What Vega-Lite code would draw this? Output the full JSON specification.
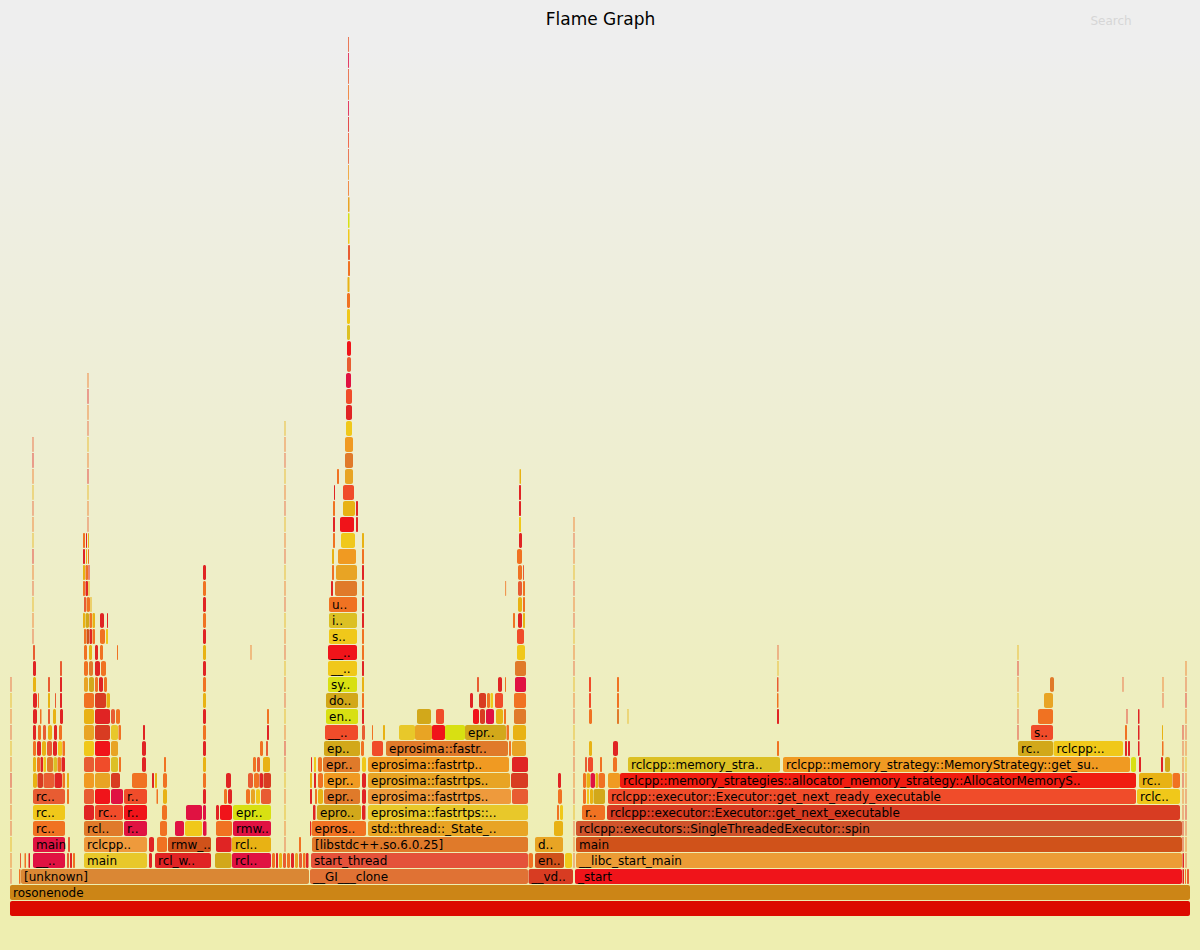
{
"$schema": "https://vega.github.io/schema/vega-lite/v6.json",
"width": 1200, "height": 950,
"autosize": "none",
"padding": 0,
"background": "#eeeeee",
"config": {"view": {"stroke": null, "fill": {"gradient": "linear", "x1": 0, "y1": 0, "x2": 0, "y2": 1, "stops": [{"offset": 0.05, "color": "#eeeeee"}, {"offset": 0.95, "color": "#eeeeb0"}]}}},
"data": {"values": [
{"x0":10,"x1":1190,"depth":0,"heat":"A"},
{"x0":10,"x1":1190,"depth":1,"heat":"B","name":"rosonenode"},
{"x0":10.6,"x1":11.4,"depth":2,"heat":"Z"},{"x0":19,"x1":20.5,"depth":2,"heat":"W"},{"x0":21,"x1":309,"depth":2,"heat":"C","name":"[unknown]"},{"x0":310,"x1":528,"depth":2,"heat":"D","name":"__GI___clone"},{"x0":528.5,"x1":573,"depth":2,"heat":"N","name":"__vd.."},{"x0":575,"x1":1182,"depth":2,"heat":"J","name":"_start"},{"x0":1182.5,"x1":1184,"depth":2,"heat":"X"},{"x0":1185,"x1":1186,"depth":2,"heat":"W"},{"x0":1187,"x1":1189,"depth":2,"heat":"Z"},
{"x0":10.6,"x1":11.4,"depth":3,"heat":"W"},{"x0":20,"x1":21,"depth":3,"heat":"Z"},{"x0":24.5,"x1":26,"depth":3,"heat":"W"},{"x0":28.5,"x1":30,"depth":3,"heat":"X"},{"x0":33,"x1":65,"depth":3,"heat":"T","name":"__.."},{"x0":67,"x1":69,"depth":3,"heat":"Z"},{"x0":70,"x1":72,"depth":3,"heat":"X"},{"x0":73,"x1":75,"depth":3,"heat":"W"},{"x0":84,"x1":147,"depth":3,"heat":"H","name":"main"},{"x0":149,"x1":152,"depth":3,"heat":"X"},{"x0":155,"x1":211,"depth":3,"heat":"X","name":"rcl_w.."},{"x0":215,"x1":231.5,"depth":3,"heat":"V"},{"x0":232,"x1":271,"depth":3,"heat":"T","name":"rcl.."},{"x0":272,"x1":275,"depth":3,"heat":"W"},{"x0":276,"x1":278,"depth":3,"heat":"X"},{"x0":279,"x1":282,"depth":3,"heat":"Y"},{"x0":283,"x1":286,"depth":3,"heat":"Z"},{"x0":287,"x1":290,"depth":3,"heat":"W"},{"x0":291,"x1":294,"depth":3,"heat":"X"},{"x0":295,"x1":298,"depth":3,"heat":"G"},{"x0":299,"x1":302,"depth":3,"heat":"Z"},{"x0":303,"x1":305.5,"depth":3,"heat":"W"},{"x0":306,"x1":308.5,"depth":3,"heat":"X"},{"x0":311,"x1":528,"depth":3,"heat":"E","name":"start_thread"},{"x0":528.5,"x1":533,"depth":3,"heat":"W"},{"x0":535,"x1":564,"depth":3,"heat":"L","name":"en.."},{"x0":565,"x1":572,"depth":3,"heat":"U"},{"x0":573.6,"x1":574.4,"depth":3,"heat":"Z"},{"x0":576,"x1":1182,"depth":3,"heat":"K","name":"__libc_start_main"},{"x0":1182.5,"x1":1184,"depth":3,"heat":"X"},{"x0":1185.6,"x1":1186.4,"depth":3,"heat":"Z"},
{"x0":10.6,"x1":11.4,"depth":4,"heat":"Y"},{"x0":33,"x1":65,"depth":4,"heat":"T","name":"main"},{"x0":68,"x1":70,"depth":4,"heat":"Z"},{"x0":84,"x1":147,"depth":4,"heat":"I","name":"rclcpp.."},{"x0":149,"x1":154,"depth":4,"heat":"X"},{"x0":157,"x1":167,"depth":4,"heat":"W"},{"x0":168,"x1":211,"depth":4,"heat":"L","name":"rmw_.."},{"x0":216,"x1":231.5,"depth":4,"heat":"X"},{"x0":232,"x1":271,"depth":4,"heat":"Y","name":"rcl.."},{"x0":284.6,"x1":285.4,"depth":4,"heat":"Z"},{"x0":299,"x1":301,"depth":4,"heat":"W"},{"x0":312,"x1":528,"depth":4,"heat":"F","name":"[libstdc++.so.6.0.25]"},{"x0":535,"x1":563,"depth":4,"heat":"G","name":"d.."},{"x0":573.6,"x1":574.4,"depth":4,"heat":"W"},{"x0":576,"x1":1182,"depth":4,"heat":"L","name":"main"},{"x0":1182.6,"x1":1183.4,"depth":4,"heat":"X"},{"x0":1185.6,"x1":1186.4,"depth":4,"heat":"W"},
{"x0":10.6,"x1":11.4,"depth":5,"heat":"Z"},{"x0":33,"x1":65,"depth":5,"heat":"W","name":"rc.."},{"x0":84,"x1":123,"depth":5,"heat":"F","name":"rcl.."},{"x0":124,"x1":147,"depth":5,"heat":"T","name":"r.."},{"x0":160,"x1":167,"depth":5,"heat":"W"},{"x0":175,"x1":184,"depth":5,"heat":"T"},{"x0":185,"x1":202,"depth":5,"heat":"U"},{"x0":203,"x1":206.5,"depth":5,"heat":"T"},{"x0":216,"x1":232,"depth":5,"heat":"W"},{"x0":233,"x1":271,"depth":5,"heat":"T","name":"rmw.."},{"x0":284.6,"x1":285.4,"depth":5,"heat":"W"},{"x0":310,"x1":311,"depth":5,"heat":"X"},{"x0":311.5,"x1":366,"depth":5,"heat":"W","name":"epros.."},{"x0":368,"x1":528,"depth":5,"heat":"G","name":"std::thread::_State_.."},{"x0":554,"x1":563,"depth":5,"heat":"Y"},{"x0":573.6,"x1":574.4,"depth":5,"heat":"Z"},{"x0":576,"x1":1182,"depth":5,"heat":"M","name":"rclcpp::executors::SingleThreadedExecutor::spin"},{"x0":1182.6,"x1":1183.4,"depth":5,"heat":"X"},{"x0":1185.6,"x1":1186.4,"depth":5,"heat":"Z"},
{"x0":10.6,"x1":11.4,"depth":6,"heat":"W"},{"x0":33,"x1":65,"depth":6,"heat":"U","name":"rc.."},{"x0":84,"x1":94,"depth":6,"heat":"X"},{"x0":95,"x1":123,"depth":6,"heat":"O","name":"rc.."},{"x0":124,"x1":147,"depth":6,"heat":"J","name":"r.."},{"x0":162,"x1":167,"depth":6,"heat":"W"},{"x0":186,"x1":202,"depth":6,"heat":"T"},{"x0":203,"x1":206,"depth":6,"heat":"T"},{"x0":216,"x1":219,"depth":6,"heat":"X"},{"x0":220,"x1":232,"depth":6,"heat":"J"},{"x0":233,"x1":271,"depth":6,"heat":"S","name":"epr.."},{"x0":284.6,"x1":285.4,"depth":6,"heat":"Y"},{"x0":313,"x1":315.5,"depth":6,"heat":"X"},{"x0":317,"x1":361,"depth":6,"heat":"V","name":"epro.."},{"x0":362,"x1":365.5,"depth":6,"heat":"X"},{"x0":368,"x1":528,"depth":6,"heat":"H","name":"eprosima::fastrtps::.."},{"x0":557,"x1":559,"depth":6,"heat":"W"},{"x0":560,"x1":563,"depth":6,"heat":"U"},{"x0":573.6,"x1":574.4,"depth":6,"heat":"Y"},{"x0":582,"x1":605,"depth":6,"heat":"W","name":"r.."},{"x0":607,"x1":1180,"depth":6,"heat":"N","name":"rclcpp::executor::Executor::get_next_executable"},{"x0":1182.6,"x1":1183.4,"depth":6,"heat":"Z"},{"x0":1185.6,"x1":1186.4,"depth":6,"heat":"X"},
{"x0":10.6,"x1":11.4,"depth":7,"heat":"Z"},{"x0":33,"x1":65,"depth":7,"heat":"Z","name":"rc.."},{"x0":67,"x1":69,"depth":7,"heat":"W"},{"x0":84,"x1":94,"depth":7,"heat":"Z"},{"x0":95,"x1":110,"depth":7,"heat":"J"},{"x0":111,"x1":123,"depth":7,"heat":"T"},{"x0":124,"x1":147,"depth":7,"heat":"O","name":"r.."},{"x0":156.5,"x1":158,"depth":7,"heat":"W"},{"x0":163,"x1":167,"depth":7,"heat":"Y"},{"x0":203,"x1":206,"depth":7,"heat":"X"},{"x0":224,"x1":227,"depth":7,"heat":"W"},{"x0":228,"x1":232,"depth":7,"heat":"X"},{"x0":246,"x1":250,"depth":7,"heat":"W"},{"x0":251,"x1":255,"depth":7,"heat":"G"},{"x0":256,"x1":260,"depth":7,"heat":"U"},{"x0":261,"x1":271,"depth":7,"heat":"Z"},{"x0":284.6,"x1":285.4,"depth":7,"heat":"W"},{"x0":310,"x1":312,"depth":7,"heat":"X"},{"x0":315,"x1":317,"depth":7,"heat":"W"},{"x0":318,"x1":323,"depth":7,"heat":"Y"},{"x0":324,"x1":360,"depth":7,"heat":"F","name":"epr.."},{"x0":362,"x1":366,"depth":7,"heat":"X"},{"x0":368,"x1":511,"depth":7,"heat":"I","name":"eprosima::fastrtps.."},{"x0":512,"x1":528,"depth":7,"heat":"Z"},{"x0":558,"x1":562,"depth":7,"heat":"W"},{"x0":573.6,"x1":574.4,"depth":7,"heat":"Z"},{"x0":583,"x1":586,"depth":7,"heat":"W"},{"x0":587,"x1":589,"depth":7,"heat":"U"},{"x0":590,"x1":593,"depth":7,"heat":"Y"},{"x0":593.5,"x1":605,"depth":7,"heat":"V"},{"x0":608,"x1":1136,"depth":7,"heat":"O","name":"rclcpp::executor::Executor::get_next_ready_executable"},{"x0":1137,"x1":1180,"depth":7,"heat":"U","name":"rclc.."},{"x0":1182.6,"x1":1183.4,"depth":7,"heat":"W"},{"x0":1185.6,"x1":1186.4,"depth":7,"heat":"Z"},
{"x0":10.6,"x1":11.4,"depth":8,"heat":"X"},{"x0":33,"x1":37,"depth":8,"heat":"Y"},{"x0":37.5,"x1":43,"depth":8,"heat":"N"},{"x0":43.5,"x1":54,"depth":8,"heat":"Z"},{"x0":54.5,"x1":62,"depth":8,"heat":"X"},{"x0":62.5,"x1":65,"depth":8,"heat":"W"},{"x0":67,"x1":69,"depth":8,"heat":"Y"},{"x0":84,"x1":94,"depth":8,"heat":"R"},{"x0":95,"x1":110,"depth":8,"heat":"G"},{"x0":111,"x1":120,"depth":8,"heat":"N"},{"x0":132,"x1":147,"depth":8,"heat":"W"},{"x0":152,"x1":154,"depth":8,"heat":"X"},{"x0":155,"x1":157,"depth":8,"heat":"Y"},{"x0":163,"x1":167,"depth":8,"heat":"W"},{"x0":203,"x1":206,"depth":8,"heat":"W"},{"x0":226,"x1":231,"depth":8,"heat":"X"},{"x0":248,"x1":253,"depth":8,"heat":"Z"},{"x0":254,"x1":259,"depth":8,"heat":"W"},{"x0":259.5,"x1":263,"depth":8,"heat":"X"},{"x0":263.5,"x1":271,"depth":8,"heat":"N"},{"x0":284.6,"x1":285.4,"depth":8,"heat":"Y"},{"x0":310,"x1":312,"depth":8,"heat":"Y"},{"x0":314,"x1":316,"depth":8,"heat":"X"},{"x0":318,"x1":323,"depth":8,"heat":"W"},{"x0":324,"x1":360,"depth":8,"heat":"R","name":"epr.."},{"x0":362,"x1":366,"depth":8,"heat":"X"},{"x0":368,"x1":510,"depth":8,"heat":"G","name":"eprosima::fastrtps.."},{"x0":511,"x1":528,"depth":8,"heat":"N"},{"x0":558,"x1":561,"depth":8,"heat":"X"},{"x0":573.6,"x1":574.4,"depth":8,"heat":"W"},{"x0":583,"x1":586,"depth":8,"heat":"W"},{"x0":586.5,"x1":590,"depth":8,"heat":"Y"},{"x0":590.5,"x1":595,"depth":8,"heat":"T"},{"x0":595.5,"x1":598,"depth":8,"heat":"Y"},{"x0":598.5,"x1":605,"depth":8,"heat":"W"},{"x0":608,"x1":620,"depth":8,"heat":"R"},{"x0":620,"x1":1136,"depth":8,"heat":"P","name":"rclcpp::memory_strategies::allocator_memory_strategy::AllocatorMemoryS.."},{"x0":1139,"x1":1172,"depth":8,"heat":"Y","name":"rc.."},{"x0":1172.5,"x1":1180,"depth":8,"heat":"W"},{"x0":1182.6,"x1":1183.4,"depth":8,"heat":"X"},{"x0":1185.6,"x1":1186.4,"depth":8,"heat":"W"},
{"x0":10.6,"x1":11.4,"depth":9,"heat":"W"},{"x0":33,"x1":36,"depth":9,"heat":"Y"},{"x0":37,"x1":40,"depth":9,"heat":"W"},{"x0":40.5,"x1":43,"depth":9,"heat":"X"},{"x0":43.5,"x1":46,"depth":9,"heat":"U"},{"x0":47,"x1":53,"depth":9,"heat":"F"},{"x0":53.5,"x1":57,"depth":9,"heat":"Q"},{"x0":57.5,"x1":61,"depth":9,"heat":"W"},{"x0":61.5,"x1":65,"depth":9,"heat":"X"},{"x0":84,"x1":94,"depth":9,"heat":"Z"},{"x0":95,"x1":110,"depth":9,"heat":"O"},{"x0":111,"x1":118,"depth":9,"heat":"Q"},{"x0":119,"x1":121,"depth":9,"heat":"W"},{"x0":142,"x1":146,"depth":9,"heat":"X"},{"x0":164,"x1":166,"depth":9,"heat":"W"},{"x0":203,"x1":206,"depth":9,"heat":"Y"},{"x0":253,"x1":256,"depth":9,"heat":"W"},{"x0":257,"x1":260,"depth":9,"heat":"Z"},{"x0":263,"x1":270,"depth":9,"heat":"Y"},{"x0":284.6,"x1":285.4,"depth":9,"heat":"Z"},{"x0":311,"x1":312,"depth":9,"heat":"X"},{"x0":314,"x1":316,"depth":9,"heat":"U"},{"x0":318,"x1":322,"depth":9,"heat":"W"},{"x0":323,"x1":360,"depth":9,"heat":"F","name":"epr.."},{"x0":362,"x1":366,"depth":9,"heat":"U"},{"x0":368,"x1":509,"depth":9,"heat":"R","name":"eprosima::fastrtp.."},{"x0":512,"x1":528,"depth":9,"heat":"X"},{"x0":573.6,"x1":574.4,"depth":9,"heat":"Z"},{"x0":585,"x1":587,"depth":9,"heat":"Z"},{"x0":588,"x1":593,"depth":9,"heat":"O"},{"x0":600,"x1":602,"depth":9,"heat":"W"},{"x0":613,"x1":617,"depth":9,"heat":"W"},{"x0":628,"x1":780,"depth":9,"heat":"Q","name":"rclcpp::memory_stra.."},{"x0":783,"x1":1130,"depth":9,"heat":"R","name":"rclcpp::memory_strategy::MemoryStrategy::get_su.."},{"x0":1131,"x1":1136,"depth":9,"heat":"S"},{"x0":1139,"x1":1141,"depth":9,"heat":"X"},{"x0":1161,"x1":1163,"depth":9,"heat":"X"},{"x0":1165,"x1":1170,"depth":9,"heat":"V"},{"x0":1182.6,"x1":1183.4,"depth":9,"heat":"W"},{"x0":1185.6,"x1":1186.4,"depth":9,"heat":"Y"},
{"x0":10.6,"x1":11.4,"depth":10,"heat":"Y"},{"x0":33,"x1":36,"depth":10,"heat":"W"},{"x0":37,"x1":41,"depth":10,"heat":"X"},{"x0":42,"x1":46,"depth":10,"heat":"Y"},{"x0":47,"x1":52,"depth":10,"heat":"Z"},{"x0":53,"x1":57,"depth":10,"heat":"X"},{"x0":58,"x1":62,"depth":10,"heat":"U"},{"x0":62.5,"x1":65,"depth":10,"heat":"W"},{"x0":84,"x1":94,"depth":10,"heat":"U"},{"x0":95,"x1":110,"depth":10,"heat":"J"},{"x0":111,"x1":118,"depth":10,"heat":"G"},{"x0":142,"x1":146,"depth":10,"heat":"X"},{"x0":203,"x1":206,"depth":10,"heat":"X"},{"x0":260,"x1":263,"depth":10,"heat":"W"},{"x0":266,"x1":268,"depth":10,"heat":"Z"},{"x0":284.6,"x1":285.4,"depth":10,"heat":"X"},{"x0":324,"x1":360,"depth":10,"heat":"V","name":"ep.."},{"x0":361,"x1":364,"depth":10,"heat":"W"},{"x0":372,"x1":383,"depth":10,"heat":"O"},{"x0":386,"x1":508,"depth":10,"heat":"F","name":"eprosima::fastr.."},{"x0":509,"x1":511,"depth":10,"heat":"W"},{"x0":512,"x1":526,"depth":10,"heat":"G"},{"x0":573.6,"x1":574.4,"depth":10,"heat":"W"},{"x0":589,"x1":592,"depth":10,"heat":"Y"},{"x0":613,"x1":618,"depth":10,"heat":"X"},{"x0":777,"x1":779,"depth":10,"heat":"W"},{"x0":1018,"x1":1053,"depth":10,"heat":"V","name":"rc.."},{"x0":1053.5,"x1":1123,"depth":10,"heat":"U","name":"rclcpp:.."},{"x0":1125,"x1":1127,"depth":10,"heat":"X"},{"x0":1128,"x1":1130,"depth":10,"heat":"X"},{"x0":1138,"x1":1139.5,"depth":10,"heat":"X"},{"x0":1162,"x1":1163.5,"depth":10,"heat":"W"},{"x0":1182.6,"x1":1183.4,"depth":10,"heat":"Z"},{"x0":1185.6,"x1":1186.4,"depth":10,"heat":"W"},
{"x0":10.6,"x1":11.4,"depth":11,"heat":"Z"},{"x0":33,"x1":36,"depth":11,"heat":"X"},{"x0":38,"x1":41,"depth":11,"heat":"W"},{"x0":43,"x1":46,"depth":11,"heat":"Z"},{"x0":48,"x1":52,"depth":11,"heat":"Y"},{"x0":54,"x1":57,"depth":11,"heat":"X"},{"x0":59,"x1":62,"depth":11,"heat":"W"},{"x0":84,"x1":94,"depth":11,"heat":"G"},{"x0":95,"x1":110,"depth":11,"heat":"N"},{"x0":111,"x1":118,"depth":11,"heat":"H"},{"x0":118.5,"x1":121,"depth":11,"heat":"W"},{"x0":143,"x1":145,"depth":11,"heat":"X"},{"x0":203,"x1":206,"depth":11,"heat":"W"},{"x0":267,"x1":269,"depth":11,"heat":"X"},{"x0":284.6,"x1":285.4,"depth":11,"heat":"W"},{"x0":325,"x1":358,"depth":11,"heat":"O","name":"__.."},{"x0":362,"x1":365,"depth":11,"heat":"Z"},{"x0":372,"x1":373,"depth":11,"heat":"W"},{"x0":383,"x1":385,"depth":11,"heat":"Y"},{"x0":399,"x1":415,"depth":11,"heat":"H"},{"x0":415,"x1":432,"depth":11,"heat":"G"},{"x0":432,"x1":445,"depth":11,"heat":"J"},{"x0":445,"x1":465,"depth":11,"heat":"S"},{"x0":465,"x1":506,"depth":11,"heat":"V","name":"epr.."},{"x0":506.5,"x1":509,"depth":11,"heat":"W"},{"x0":513,"x1":526,"depth":11,"heat":"Y"},{"x0":573.6,"x1":574.4,"depth":11,"heat":"Y"},{"x0":1017.6,"x1":1018.4,"depth":11,"heat":"X"},{"x0":1031,"x1":1053,"depth":11,"heat":"O","name":"s.."},{"x0":1125,"x1":1127,"depth":11,"heat":"W"},{"x0":1138,"x1":1139.5,"depth":11,"heat":"X"},{"x0":1162,"x1":1163,"depth":11,"heat":"Y"},{"x0":1182.6,"x1":1183.4,"depth":11,"heat":"X"},{"x0":1185.6,"x1":1186.4,"depth":11,"heat":"Z"},
{"x0":10.6,"x1":11.4,"depth":12,"heat":"W"},{"x0":33,"x1":37,"depth":12,"heat":"X"},{"x0":40,"x1":41.5,"depth":12,"heat":"W"},{"x0":48,"x1":50,"depth":12,"heat":"Z"},{"x0":53,"x1":56,"depth":12,"heat":"Y"},{"x0":60,"x1":63,"depth":12,"heat":"X"},{"x0":84,"x1":94,"depth":12,"heat":"Y"},{"x0":95,"x1":110,"depth":12,"heat":"X"},{"x0":111,"x1":115,"depth":12,"heat":"Z"},{"x0":116,"x1":120,"depth":12,"heat":"W"},{"x0":203,"x1":206,"depth":12,"heat":"X"},{"x0":267,"x1":269,"depth":12,"heat":"W"},{"x0":284.6,"x1":285.4,"depth":12,"heat":"Y"},{"x0":326,"x1":358,"depth":12,"heat":"S","name":"en.."},{"x0":362,"x1":364,"depth":12,"heat":"X"},{"x0":417,"x1":431,"depth":12,"heat":"V"},{"x0":436,"x1":444,"depth":12,"heat":"O"},{"x0":473,"x1":479,"depth":12,"heat":"J"},{"x0":480,"x1":485,"depth":12,"heat":"N"},{"x0":486,"x1":494,"depth":12,"heat":"T"},{"x0":496,"x1":503,"depth":12,"heat":"Y"},{"x0":504,"x1":506,"depth":12,"heat":"W"},{"x0":514,"x1":526,"depth":12,"heat":"F"},{"x0":573.6,"x1":574.4,"depth":12,"heat":"Z"},{"x0":589,"x1":592,"depth":12,"heat":"W"},{"x0":617,"x1":619,"depth":12,"heat":"F"},{"x0":627.6,"x1":628.4,"depth":12,"heat":"Y"},{"x0":777,"x1":779,"depth":12,"heat":"X"},{"x0":1017.6,"x1":1018.4,"depth":12,"heat":"Z"},{"x0":1038,"x1":1053,"depth":12,"heat":"W"},{"x0":1126.6,"x1":1127.4,"depth":12,"heat":"X"},{"x0":1138,"x1":1139.5,"depth":12,"heat":"X"},{"x0":1185.6,"x1":1186.4,"depth":12,"heat":"W"},
{"x0":10.6,"x1":11.4,"depth":13,"heat":"Y"},{"x0":33,"x1":37,"depth":13,"heat":"X"},{"x0":38,"x1":39,"depth":13,"heat":"W"},{"x0":48,"x1":50,"depth":13,"heat":"Y"},{"x0":55,"x1":56,"depth":13,"heat":"Z"},{"x0":60,"x1":62,"depth":13,"heat":"X"},{"x0":84,"x1":94,"depth":13,"heat":"W"},{"x0":95,"x1":106,"depth":13,"heat":"N"},{"x0":106.5,"x1":110,"depth":13,"heat":"Y"},{"x0":203,"x1":206,"depth":13,"heat":"Y"},{"x0":284.6,"x1":285.4,"depth":13,"heat":"Z"},{"x0":326,"x1":358,"depth":13,"heat":"V","name":"do.."},{"x0":362,"x1":364,"depth":13,"heat":"W"},{"x0":470,"x1":473,"depth":13,"heat":"X"},{"x0":479,"x1":486,"depth":13,"heat":"N"},{"x0":487,"x1":490,"depth":13,"heat":"W"},{"x0":490.5,"x1":493,"depth":13,"heat":"U"},{"x0":495,"x1":503,"depth":13,"heat":"O"},{"x0":514,"x1":526,"depth":13,"heat":"W"},{"x0":573.6,"x1":574.4,"depth":13,"heat":"W"},{"x0":589,"x1":591,"depth":13,"heat":"O"},{"x0":617,"x1":619,"depth":13,"heat":"W"},{"x0":777,"x1":778.5,"depth":13,"heat":"W"},{"x0":1017.6,"x1":1018.4,"depth":13,"heat":"Y"},{"x0":1044,"x1":1053,"depth":13,"heat":"G"},{"x0":1162.6,"x1":1163.4,"depth":13,"heat":"Z"},{"x0":1185.6,"x1":1186.4,"depth":13,"heat":"X"},
{"x0":10.6,"x1":11.4,"depth":14,"heat":"Z"},{"x0":33,"x1":36,"depth":14,"heat":"Y"},{"x0":48,"x1":50,"depth":14,"heat":"Z"},{"x0":60,"x1":62,"depth":14,"heat":"X"},{"x0":84,"x1":88,"depth":14,"heat":"G"},{"x0":89,"x1":94,"depth":14,"heat":"V"},{"x0":95,"x1":98,"depth":14,"heat":"W"},{"x0":99,"x1":103,"depth":14,"heat":"X"},{"x0":104,"x1":107,"depth":14,"heat":"W"},{"x0":203,"x1":206,"depth":14,"heat":"W"},{"x0":284.6,"x1":285.4,"depth":14,"heat":"W"},{"x0":328,"x1":357,"depth":14,"heat":"S","name":"sy.."},{"x0":362,"x1":364,"depth":14,"heat":"Y"},{"x0":477,"x1":479,"depth":14,"heat":"Z"},{"x0":498,"x1":502,"depth":14,"heat":"X"},{"x0":505,"x1":506,"depth":14,"heat":"W"},{"x0":515,"x1":526,"depth":14,"heat":"T"},{"x0":573.6,"x1":574.4,"depth":14,"heat":"Y"},{"x0":589,"x1":591,"depth":14,"heat":"O"},{"x0":617,"x1":619,"depth":14,"heat":"W"},{"x0":777,"x1":778.5,"depth":14,"heat":"Z"},{"x0":1017.6,"x1":1018.4,"depth":14,"heat":"W"},{"x0":1050,"x1":1054,"depth":14,"heat":"F"},{"x0":1122.6,"x1":1123.4,"depth":14,"heat":"Z"},{"x0":1162.6,"x1":1163.4,"depth":14,"heat":"W"},{"x0":1185.6,"x1":1186.4,"depth":14,"heat":"Z"},
{"x0":33,"x1":36,"depth":15,"heat":"X"},{"x0":60,"x1":62,"depth":15,"heat":"Z"},{"x0":84,"x1":88,"depth":15,"heat":"W"},{"x0":89,"x1":93,"depth":15,"heat":"F"},{"x0":95,"x1":100,"depth":15,"heat":"X"},{"x0":101,"x1":106,"depth":15,"heat":"W"},{"x0":203,"x1":206,"depth":15,"heat":"X"},{"x0":284.6,"x1":285.4,"depth":15,"heat":"Y"},{"x0":328,"x1":357,"depth":15,"heat":"U","name":"__.."},{"x0":362,"x1":364,"depth":15,"heat":"X"},{"x0":515,"x1":526,"depth":15,"heat":"F"},{"x0":573.6,"x1":574.4,"depth":15,"heat":"Z"},{"x0":777.6,"x1":778.4,"depth":15,"heat":"Y"},{"x0":1017.6,"x1":1018.4,"depth":15,"heat":"X"},{"x0":1185.6,"x1":1186.4,"depth":15,"heat":"W"},
{"x0":33,"x1":35,"depth":16,"heat":"Z"},{"x0":84,"x1":87,"depth":16,"heat":"W"},{"x0":89,"x1":92,"depth":16,"heat":"Y"},{"x0":95,"x1":98,"depth":16,"heat":"X"},{"x0":100,"x1":103,"depth":16,"heat":"W"},{"x0":117,"x1":118,"depth":16,"heat":"W"},{"x0":203,"x1":206,"depth":16,"heat":"Y"},{"x0":250.6,"x1":251.4,"depth":16,"heat":"W"},{"x0":284.6,"x1":285.4,"depth":16,"heat":"Z"},{"x0":328,"x1":357,"depth":16,"heat":"J","name":"__.."},{"x0":362,"x1":364,"depth":16,"heat":"W"},{"x0":517,"x1":525,"depth":16,"heat":"U"},{"x0":573.6,"x1":574.4,"depth":16,"heat":"W"},{"x0":777.6,"x1":778.4,"depth":16,"heat":"Z"},{"x0":1017.6,"x1":1018.4,"depth":16,"heat":"Y"},
{"x0":32.6,"x1":33.4,"depth":17,"heat":"Z"},{"x0":84,"x1":86,"depth":17,"heat":"W"},{"x0":86.5,"x1":89,"depth":17,"heat":"L"},{"x0":89.5,"x1":92,"depth":17,"heat":"X"},{"x0":92.5,"x1":95,"depth":17,"heat":"W"},{"x0":100,"x1":105,"depth":17,"heat":"W"},{"x0":106,"x1":108,"depth":17,"heat":"U"},{"x0":203,"x1":206,"depth":17,"heat":"X"},{"x0":284.6,"x1":285.4,"depth":17,"heat":"W"},{"x0":329,"x1":357,"depth":17,"heat":"U","name":"s.."},{"x0":362,"x1":364,"depth":17,"heat":"W"},{"x0":517,"x1":524,"depth":17,"heat":"O"},{"x0":573.6,"x1":574.4,"depth":17,"heat":"Y"},
{"x0":32.6,"x1":33.4,"depth":18,"heat":"W"},{"x0":83,"x1":85,"depth":18,"heat":"Y"},{"x0":85.5,"x1":89,"depth":18,"heat":"V"},{"x0":89.5,"x1":92,"depth":18,"heat":"W"},{"x0":92.5,"x1":95,"depth":18,"heat":"Y"},{"x0":100,"x1":104,"depth":18,"heat":"X"},{"x0":107,"x1":108,"depth":18,"heat":"X"},{"x0":203,"x1":206,"depth":18,"heat":"W"},{"x0":284.6,"x1":285.4,"depth":18,"heat":"Y"},{"x0":329,"x1":357,"depth":18,"heat":"Q","name":"i.."},{"x0":362,"x1":364,"depth":18,"heat":"X"},{"x0":513,"x1":515,"depth":18,"heat":"W"},{"x0":518,"x1":522,"depth":18,"heat":"X"},{"x0":523,"x1":525,"depth":18,"heat":"Y"},{"x0":573.6,"x1":574.4,"depth":18,"heat":"Z"},
{"x0":32.6,"x1":33.4,"depth":19,"heat":"Y"},{"x0":84,"x1":86,"depth":19,"heat":"Z"},{"x0":86.5,"x1":90,"depth":19,"heat":"W"},{"x0":90.5,"x1":91.5,"depth":19,"heat":"Y"},{"x0":203,"x1":206,"depth":19,"heat":"X"},{"x0":284.6,"x1":285.4,"depth":19,"heat":"Z"},{"x0":329,"x1":357,"depth":19,"heat":"W","name":"u.."},{"x0":362,"x1":364,"depth":19,"heat":"X"},{"x0":518,"x1":522,"depth":19,"heat":"Y"},{"x0":523,"x1":525,"depth":19,"heat":"W"},{"x0":573.6,"x1":574.4,"depth":19,"heat":"W"},
{"x0":32.6,"x1":33.4,"depth":20,"heat":"Z"},{"x0":83,"x1":85,"depth":20,"heat":"W"},{"x0":85.5,"x1":88,"depth":20,"heat":"X"},{"x0":88.5,"x1":89.5,"depth":20,"heat":"Y"},{"x0":203,"x1":206,"depth":20,"heat":"W"},{"x0":284.6,"x1":285.4,"depth":20,"heat":"W"},{"x0":331,"x1":333,"depth":20,"heat":"X"},{"x0":335,"x1":357,"depth":20,"heat":"F"},{"x0":362,"x1":364,"depth":20,"heat":"W"},{"x0":505.3,"x1":506.1,"depth":20,"heat":"W"},{"x0":518,"x1":522,"depth":20,"heat":"Z"},{"x0":523,"x1":525,"depth":20,"heat":"W"},{"x0":573.6,"x1":574.4,"depth":20,"heat":"Z"},
{"x0":32.6,"x1":33.4,"depth":21,"heat":"W"},{"x0":83,"x1":85,"depth":21,"heat":"Y"},{"x0":85.5,"x1":88,"depth":21,"heat":"W"},{"x0":88.5,"x1":89.5,"depth":21,"heat":"X"},{"x0":203,"x1":206,"depth":21,"heat":"X"},{"x0":284.6,"x1":285.4,"depth":21,"heat":"Y"},{"x0":332,"x1":334,"depth":21,"heat":"W"},{"x0":336,"x1":357,"depth":21,"heat":"G"},{"x0":362,"x1":364,"depth":21,"heat":"X"},{"x0":518,"x1":522,"depth":21,"heat":"W"},{"x0":523,"x1":524,"depth":21,"heat":"Z"},{"x0":573.6,"x1":574.4,"depth":21,"heat":"Y"},
{"x0":32.6,"x1":33.4,"depth":22,"heat":"X"},{"x0":83,"x1":85,"depth":22,"heat":"X"},{"x0":86,"x1":87,"depth":22,"heat":"Y"},{"x0":88,"x1":89,"depth":22,"heat":"W"},{"x0":284.6,"x1":285.4,"depth":22,"heat":"Z"},{"x0":332,"x1":334,"depth":22,"heat":"Y"},{"x0":338,"x1":356,"depth":22,"heat":"R"},{"x0":362,"x1":364,"depth":22,"heat":"W"},{"x0":517,"x1":522,"depth":22,"heat":"W"},{"x0":573.6,"x1":574.4,"depth":22,"heat":"W"},
{"x0":32.6,"x1":33.4,"depth":23,"heat":"Y"},{"x0":83,"x1":85,"depth":23,"heat":"W"},{"x0":86,"x1":87,"depth":23,"heat":"X"},{"x0":88,"x1":89,"depth":23,"heat":"Y"},{"x0":284.6,"x1":285.4,"depth":23,"heat":"W"},{"x0":333,"x1":335,"depth":23,"heat":"W"},{"x0":341,"x1":355,"depth":23,"heat":"U"},{"x0":362,"x1":364,"depth":23,"heat":"Y"},{"x0":519,"x1":522,"depth":23,"heat":"X"},{"x0":573.6,"x1":574.4,"depth":23,"heat":"Z"},
{"x0":32.6,"x1":33.4,"depth":24,"heat":"W"},{"x0":87.6,"x1":88.4,"depth":24,"heat":"Z"},{"x0":284.6,"x1":285.4,"depth":24,"heat":"Y"},{"x0":333,"x1":335,"depth":24,"heat":"X"},{"x0":340,"x1":354,"depth":24,"heat":"J"},{"x0":356,"x1":358,"depth":24,"heat":"X"},{"x0":519,"x1":521,"depth":24,"heat":"U"},{"x0":573.6,"x1":574.4,"depth":24,"heat":"W"},
{"x0":32.6,"x1":33.4,"depth":25,"heat":"Z"},{"x0":87.6,"x1":88.4,"depth":25,"heat":"W"},{"x0":284.6,"x1":285.4,"depth":25,"heat":"Z"},{"x0":333,"x1":335,"depth":25,"heat":"W"},{"x0":343,"x1":355,"depth":25,"heat":"Y"},{"x0":356,"x1":358,"depth":25,"heat":"X"},{"x0":519,"x1":521,"depth":25,"heat":"X"},
{"x0":32.6,"x1":33.4,"depth":26,"heat":"Y"},{"x0":87.6,"x1":88.4,"depth":26,"heat":"Y"},{"x0":284.6,"x1":285.4,"depth":26,"heat":"W"},{"x0":334,"x1":335,"depth":26,"heat":"X"},{"x0":343,"x1":354,"depth":26,"heat":"O"},{"x0":519,"x1":521,"depth":26,"heat":"X"},
{"x0":32.6,"x1":33.4,"depth":27,"heat":"W"},{"x0":87.6,"x1":88.4,"depth":27,"heat":"X"},{"x0":284.6,"x1":285.4,"depth":27,"heat":"Y"},{"x0":337,"x1":339,"depth":27,"heat":"W"},{"x0":345,"x1":353,"depth":27,"heat":"G"},{"x0":519.5,"x1":521,"depth":27,"heat":"Y"},
{"x0":32.6,"x1":33.4,"depth":28,"heat":"X"},{"x0":87.6,"x1":88.4,"depth":28,"heat":"W"},{"x0":284.6,"x1":285.4,"depth":28,"heat":"Z"},{"x0":345,"x1":353,"depth":28,"heat":"F"},
{"x0":32.6,"x1":33.4,"depth":29,"heat":"Z"},{"x0":87.6,"x1":88.4,"depth":29,"heat":"Y"},{"x0":284.6,"x1":285.4,"depth":29,"heat":"W"},{"x0":345,"x1":353,"depth":29,"heat":"R"},
{"x0":87.6,"x1":88.4,"depth":30,"heat":"Z"},{"x0":284.6,"x1":285.4,"depth":30,"heat":"Y"},{"x0":346,"x1":352,"depth":30,"heat":"U"},
{"x0":87.6,"x1":88.4,"depth":31,"heat":"W"},{"x0":346,"x1":352,"depth":31,"heat":"X"},
{"x0":87.6,"x1":88.4,"depth":32,"heat":"X"},{"x0":346,"x1":352,"depth":32,"heat":"O"},
{"x0":87.6,"x1":88.4,"depth":33,"heat":"W"},{"x0":346,"x1":351,"depth":33,"heat":"T"},
{"x0":347,"x1":351,"depth":34,"heat":"Z"},
{"x0":347,"x1":351,"depth":35,"heat":"J"},
{"x0":347,"x1":350,"depth":36,"heat":"Q"},
{"x0":347,"x1":350,"depth":37,"heat":"U"},
{"x0":347,"x1":350,"depth":38,"heat":"W"},
{"x0":347.5,"x1":349.5,"depth":39,"heat":"Y"},
{"x0":348,"x1":350,"depth":40,"heat":"W"},
{"x0":348,"x1":350,"depth":41,"heat":"Z"},
{"x0":348,"x1":349.5,"depth":42,"heat":"U"},
{"x0":348,"x1":349.5,"depth":43,"heat":"S"},
{"x0":348,"x1":349.5,"depth":44,"heat":"G"},
{"x0":348.1,"x1":348.9,"depth":45,"heat":"W"},
{"x0":348.1,"x1":348.9,"depth":46,"heat":"R"},
{"x0":348.1,"x1":348.9,"depth":47,"heat":"Z"},
{"x0":348.1,"x1":348.9,"depth":48,"heat":"O"},
{"x0":348.1,"x1":348.9,"depth":49,"heat":"X"},
{"x0":348.1,"x1":348.9,"depth":50,"heat":"T"},
{"x0":348.1,"x1":348.9,"depth":51,"heat":"W"},
{"x0":348.1,"x1":348.9,"depth":52,"heat":"Z"},
{"x0":348.1,"x1":348.9,"depth":53,"heat":"T"},
{"x0":348.1,"x1":348.9,"depth":54,"heat":"Z"}
]},
"encoding": {
  "x": {"field": "x0", "type": "quantitative", "scale": {"domain": [0, 1200], "nice": false, "zero": false, "padding": 0},
        "axis": {"orient": "top", "title": "Flame Graph", "labels": false, "ticks": false, "domain": false, "grid": false, "titleX": 600, "titleY": 24, "titleAlign": "center", "titleAnchor": null, "titleBaseline": "alphabetic", "titleFont": "DejaVu Sans", "titleFontSize": 17, "titleFontWeight": "normal", "titleColor": "#000000", "minExtent": 0, "maxExtent": 0, "titlePadding": 0}},
  "y": {"field": "depth", "type": "quantitative", "scale": {"domain": [-2.59375, 56.78125], "nice": false, "zero": false, "padding": 0},
        "axis": {"orient": "right", "title": "Search", "labels": false, "ticks": false, "domain": false, "grid": false, "titleAngle": 0, "titleX": -110, "titleY": 24, "titleAlign": "left", "titleBaseline": "alphabetic", "titleFont": "DejaVu Sans", "titleFontSize": 12, "titleFontWeight": "normal", "titleColor": "#d6d6d6", "minExtent": 0, "maxExtent": 0, "titlePadding": 0}}
},
"layer": [
  {"mark": {"type": "bar", "size": 15, "cornerRadius": 2},
   "encoding": {
     "x2": {"field": "x1"},
     "color": {"field": "heat", "type": "nominal", "legend": null,
       "scale": {"domain": ["A","B","C","D","E","F","G","H","I","J","K","L","M","N","O","P","Q","R","S","T","U","V","W","X","Y","Z"],
                 "range": ["#dc0a00","#cc8516","#da8734","#e07234","#e4523a","#e07a2a","#e8a424","#e8c82a","#ee9a3c","#f0141a","#ec9c36","#d0521a","#d0542c","#d83c22","#f04c2a","#f01c10","#dcc024","#f09a22","#d8e012","#e01242","#f0c81a","#d2a81a","#f07222","#e02424","#e8b214","#e85c32"]}}
   }},
  {"transform": [{"filter": "isValid(datum.name)"}],
   "mark": {"type": "text", "font": "DejaVu Sans", "fontSize": 12, "align": "left", "baseline": "alphabetic", "dx": 3, "dy": 4, "color": "#000000"},
   "encoding": {"text": {"field": "name"}}}
]
}
